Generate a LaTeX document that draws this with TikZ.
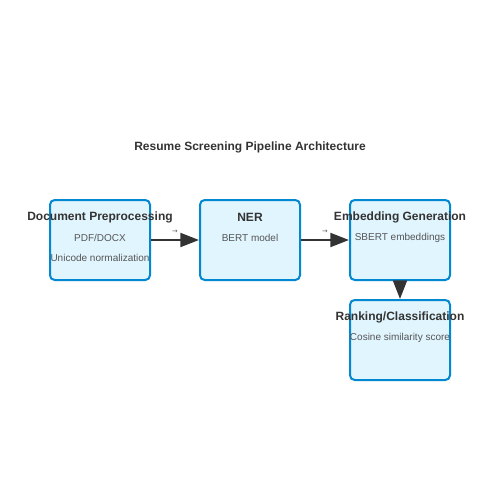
\documentclass[tikz,border=0pt]{standalone}
\usepackage{fontspec}
\setmainfont{Liberation Sans}
\newfontfamily\symfont{DejaVu Sans}
\usetikzlibrary{arrows.meta}
\definecolor{boxfill}{HTML}{E1F5FE}
\definecolor{boxline}{HTML}{0288D1}
\definecolor{ink}{HTML}{333333}
\definecolor{subink}{HTML}{555555}
\begin{document}
\begin{tikzpicture}[x=0.75pt,y=-0.75pt,
  stagebox/.style={draw=boxline,fill=boxfill,line width=1.5pt,rounded corners=3.5pt,minimum width=75pt,minimum height=60pt,inner sep=0pt},
  ttl/.style={font=\bfseries\fontsize{9}{11}\selectfont,text=ink},
  sub/.style={font=\fontsize{7.5}{9}\selectfont,text=subink},
  conn/.style={draw=ink,line width=1.5pt,-{Triangle[length=14pt,width=10.5pt]}},
  clab/.style={font=\symfont\fontsize{5}{6}\selectfont,text=subink}]
\useasboundingbox (0,0) rectangle (500,500);
\node[ttl] (title) at (250,147) {Resume Screening Pipeline Architecture};
\node[stagebox] (b1) at (100,240) {};
\node[stagebox] (b2) at (250,240) {};
\node[stagebox] (b3) at (400,240) {};
\node[stagebox] (b4) at (400,340) {};
\node[ttl] (t1) at (100,217) {Document Preprocessing};
\node[sub] (s1a) at (100,238) {PDF/DOCX};
\node[sub] (s1b) at (100,258) {Unicode normalization};
\node[ttl] (t2) at (250,217) {NER};
\node[sub] (s2a) at (250,238) {BERT model};
\node[ttl] (t3) at (400,217) {Embedding Generation};
\node[sub] (s3a) at (400,238) {SBERT embeddings};
\node[ttl] (t4) at (400,317) {Ranking/Classification};
\node[sub] (s4a) at (400,338) {Cosine similarity score};
\draw[conn] (b1.east) -- node[clab,above=0pt,yshift=1pt] {→} (b2.west);
\draw[conn] (b2.east) -- node[clab,above=0pt,yshift=1pt] {→} (b3.west);
\draw[conn] (b3.south) -- (b4.north);
\end{tikzpicture}
\end{document}
